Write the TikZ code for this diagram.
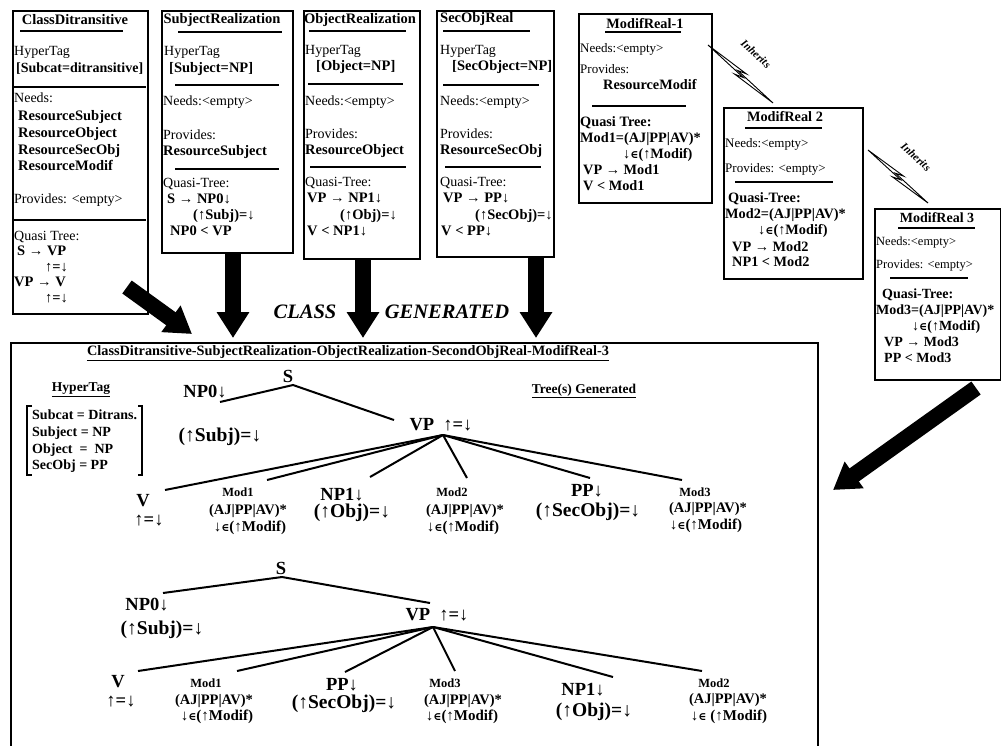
\documentclass[tikz,border=0pt]{standalone}
\usepackage{fontspec}
\setmainfont{Liberation Serif}
\newfontfamily\symfont{DejaVu Serif}
\usetikzlibrary{arrows.meta,calc}
\newcommand\elm{{\symfont\fontsize{11}{11}\selectfont ∈}}
\begin{document}
\begin{tikzpicture}[x=1pt,y=-1pt,
  frame/.style={draw, line width=1.6pt, inner sep=0pt, anchor=north west},
  rule/.style={line width=2.2pt},
  ulr/.style={line width=1.6pt},
  tb/.style={anchor=mid west, inner sep=0pt, font=\fontsize{14}{16}\selectfont},
  tbb/.style={anchor=mid west, inner sep=0pt, font=\fontsize{14.5}{16}\selectfont\bfseries},
  tm/.style={anchor=mid west, inner sep=0pt, font=\fontsize{13}{15}\selectfont},
  tmb/.style={anchor=mid west, inner sep=0pt, font=\fontsize{14.3}{15}\selectfont\bfseries},
  ts/.style={anchor=mid west, inner sep=0pt, font=\fontsize{12.5}{14}\selectfont},
  tsb/.style={anchor=mid west, inner sep=0pt, font=\fontsize{14}{14}\selectfont\bfseries},
  bigarrow/.style={line width=16pt, -{Triangle[length=26pt,width=31pt]}},
  treeedge/.style={line width=2pt},
  lbl/.style={inner sep=0pt, font=\fontsize{18.5}{20}\selectfont\bfseries},
  lblf/.style={inner sep=0pt, font=\fontsize{19.5}{20}\selectfont\bfseries},
  modl/.style={inner sep=0pt, font=\fontsize{12.5}{14}\selectfont\bfseries},
  moda/.style={inner sep=0pt, font=\fontsize{14.5}{15}\selectfont\bfseries},
  modb/.style={inner sep=0pt, font=\fontsize{15}{15}\selectfont\bfseries},
  boltline/.style={line width=0.9pt, line join=miter},
  inh/.style={inner sep=0pt, rotate=-42, font=\fontsize{11}{12}\selectfont\bfseries\itshape},
  gentxt/.style={inner sep=0pt, font=\fontsize{20.5}{22}\selectfont\bfseries\itshape}
]
\useasboundingbox (0,0) rectangle (1001,745);

% ---------- class boxes ----------
\node[frame, minimum width=135pt, minimum height=303pt] (b1) at (12,10) {};
\node[frame, minimum width=131pt, minimum height=242pt] (b2) at (161,10) {};
\node[frame, minimum width=116pt, minimum height=248pt] (b3) at (303,10) {};
\node[frame, minimum width=117pt, minimum height=246pt] (b4) at (436,10) {};
\node[frame, minimum width=133pt, minimum height=189pt] (b5) at (578,13) {};
\node[frame, minimum width=139pt, minimum height=171pt] (b6) at (723,107) {};
\node[frame, minimum width=126pt, minimum height=171pt] (b7) at (874,208) {};

% ClassDitransitive
\node[tbb, anchor=center] (b1t) at (75,20) {ClassDitransitive};
\draw[ulr] (20,31) -- (123,31);
\node[tb] (b1h) at (14,53) {HyperTag};
\node[tsb] (b1hv) at (16,70) {[Subcat=ditransitive]};
\draw[rule] (13,87) -- (146,87);
\node[tb] (b1n) at (14,100) {Needs:};
\node[tbb] (b1n1) at (18,118) {ResourceSubject};
\node[tbb] (b1n2) at (18,135) {ResourceObject};
\node[tbb] (b1n3) at (18,152) {ResourceSecObj};
\node[tbb] (b1n4) at (18,168) {ResourceModif};
\node[tb] (b1p) at (14,201) {Provides: <empty>};
\draw[rule] (13,220) -- (146,220);
\node[tb] (b1q) at (14,238) {Quasi Tree:};
\node[tbb] (b1q1) at (17,253) {S → VP};
\node[tbb] (b1q2) at (45,269) {↑=↓};
\node[tbb] (b1q3) at (14,284) {VP → V};
\node[tbb] (b1q4) at (45,300) {↑=↓};

% SubjectRealization
\node[tbb, anchor=center] (b2t) at (222,20) {SubjectRealization};
\draw[ulr] (178,32) -- (282,32);
\node[tb] (b2h) at (164,53) {HyperTag};
\node[tbb] (b2hv) at (169,70) {[Subject=NP]};
\draw[rule] (175,85) -- (279,85);
\node[tb] (b2n) at (163,103) {Needs:<empty>};
\node[tb] (b2p) at (163,137) {Provides:};
\node[tbb] (b2p1) at (163,153) {ResourceSubject};
\draw[rule] (175,169) -- (279,169);
\node[tb] (b2q) at (163,185) {Quasi-Tree:};
\node[tbb] (b2q1) at (167,201) {S → NP0↓};
\node[tbb] (b2q2) at (193,217) {(↑Subj)=↓};
\node[tbb] (b2q3) at (170,233) {NP0 < VP};

% ObjectRealization
\node[tbb, anchor=center] (b3t) at (360,20) {ObjectRealization};
\draw[ulr] (309,31) -- (406,31);
\node[tb] (b3h) at (305,52) {HyperTag};
\node[tbb] (b3hv) at (316,68) {[Object=NP]};
\draw[rule] (308,84) -- (403,84);
\node[tb] (b3n) at (305,103) {Needs:<empty>};
\node[tb] (b3p) at (305,136) {Provides:};
\node[tbb] (b3p1) at (305,152) {ResourceObject};
\draw[rule] (310,167) -- (406,167);
\node[tb] (b3q) at (305,184) {Quasi-Tree:};
\node[tbb] (b3q1) at (307,200) {VP → NP1↓};
\node[tbb] (b3q2) at (340,217) {(↑Obj)=↓};
\node[tbb] (b3q3) at (307,233) {V < NP1↓};

% SecObjReal
\node[tbb] (b4t) at (440,20) {SecObjReal};
\draw[ulr] (443,31) -- (530,31);
\node[tb] (b4h) at (440,52) {HyperTag};
\node[tbb] (b4hv) at (452,68) {[SecObject=NP]};
\draw[rule] (443,85) -- (539,85);
\node[tb] (b4n) at (440,103) {Needs:<empty>};
\node[tb] (b4p) at (440,136) {Provides:};
\node[tbb] (b4p1) at (440,152) {ResourceSecObj};
\draw[rule] (445,167) -- (541,167);
\node[tb] (b4q) at (440,184) {Quasi-Tree:};
\node[tbb] (b4q1) at (443,200) {VP → PP↓};
\node[tbb] (b4q2) at (475,217) {(↑SecObj)=↓};
\node[tbb] (b4q3) at (441,233) {V < PP↓};

% ModifReal-1
\node[tmb, anchor=center] (b5t) at (645,24) {ModifReal-1};
\draw[ulr] (605,32) -- (681,32);
\node[tm] (b5n) at (580,50) {Needs:<empty>};
\node[tm] (b5p) at (580,71) {Provides:};
\node[tmb] (b5p1) at (603,87) {ResourceModif};
\draw[rule] (592,106) -- (686,106);
\node[tmb] (b5q) at (580,124) {Quasi Tree:};
\node[tmb] (b5q1) at (580,140) {Mod1=(AJ|PP|AV)*};
\node[tmb] (b5q2) at (623,156) {↓\elm(↑Modif)};
\node[tmb] (b5q3) at (583,172) {VP → Mod1};
\node[tmb] (b5q4) at (583,188) {V < Mod1};

% ModifReal 2
\node[tmb, anchor=center] (b6t) at (785,117) {ModifReal 2};
\draw[ulr] (745,128) -- (822,128);
\node[tm] (b6n) at (725,145) {Needs:<empty>};
\node[tm] (b6p) at (725,170) {Provides: <empty>};
\draw[rule] (735,182) -- (833,182);
\node[tmb] (b6q) at (728,200) {Quasi-Tree:};
\node[tmb] (b6q1) at (725,216) {Mod2=(AJ|PP|AV)*};
\node[tmb] (b6q2) at (758,232) {↓\elm(↑Modif)};
\node[tmb] (b6q3) at (732,249) {VP → Mod2};
\node[tmb] (b6q4) at (732,264) {NP1 < Mod2};

% ModifReal 3
\node[tsb, anchor=center] (b7t) at (937,218) {ModifReal 3};
\draw[ulr] (898,228) -- (975,228);
\node[ts] (b7n) at (876,243) {Needs:<empty>};
\node[ts] (b7p) at (876,266) {Provides: <empty>};
\draw[rule] (890,278) -- (968,278);
\node[tsb] (b7q) at (882,296) {Quasi-Tree:};
\node[tsb] (b7q1) at (876,312) {Mod3=(AJ|PP|AV)*};
\node[tsb] (b7q2) at (912,328) {↓\elm(↑Modif)};
\node[tsb] (b7q3) at (884,344) {VP → Mod3};
\node[tsb] (b7q4) at (884,360) {PP < Mod3};

% ---------- inheritance bolts ----------
\coordinate (i1s) at (708,45);
\coordinate (i1e) at (773,103);
\coordinate (i2s) at (868,150);
\coordinate (i2e) at (928,203);
\foreach \s/\e in {i1s/i1e, i2s/i2e}{
  \draw[boltline] (\s)
    -- ($(\s)!0.55!(\e)!4pt!90:(\e)$)
    -- ($(\s)!0.45!(\e)!0.8pt!90:(\e)$)
    -- (\e)
    -- ($(\s)!0.45!(\e)!4pt!-90:(\e)$)
    -- ($(\s)!0.55!(\e)!0.8pt!-90:(\e)$)
    -- cycle;
}
\node[inh] (inh1) at (756,54) {Inherits};
\node[inh] (inh2) at (916,157) {Inherits};

% ---------- generated class frame ----------
\node[frame, minimum width=807pt, minimum height=430pt] (gen) at (10,342) {};
\node[inner sep=0pt, font=\fontsize{14.3}{15}\selectfont\bfseries] (gent) at (348,352)
  {ClassDitransitive-SubjectRealization-ObjectRealization-SecondObjReal-ModifReal-3};
\draw[line width=1.2pt] ([yshift=-1.5pt]gent.south west) -- ([yshift=-1.5pt]gent.south east);

% ---------- big arrows into the generated class ----------
\coordinate (a1s) at (127,287);
\coordinate (a1e) at (192,334);
\coordinate (a2s) at (233,252);
\coordinate (a2e) at (233,338);
\coordinate (a3s) at (363,258);
\coordinate (a3e) at (363,338);
\coordinate (a4s) at (536,256);
\coordinate (a4e) at (536,338);
\coordinate (a5s) at (976,388);
\coordinate (a5e) at (833,490);
\draw[bigarrow] (a1s) -- (a1e);
\draw[bigarrow] (a2s) -- (a2e);
\draw[bigarrow] (a3s) -- (a3e);
\draw[bigarrow] (a4s) -- (a4e);
\draw[bigarrow] (a5s) -- (a5e);
\node[gentxt] (cls) at (305,312) {CLASS};
\node[gentxt] (gnd) at (447,312) {GENERATED};

% ---------- hypertag of the generated class ----------
\node[inner sep=0pt, font=\fontsize{13.5}{15}\selectfont\bfseries] (ght) at (81,389) {HyperTag};
\draw[line width=1.2pt] ([yshift=-1.5pt]ght.south west) -- ([yshift=-1.5pt]ght.south east);
\draw[line width=1.8pt] (32,406) -- (27,406) -- (27,475) -- (32,475);
\draw[line width=1.8pt] (138,406) -- (142,406) -- (142,475) -- (138,475);
\node[tsb] (hv1) at (32,417) {Subcat = Ditrans.};
\node[tsb] (hv2) at (32,434) {Subject = NP};
\node[tsb] (hv3) at (32,451) {Object \ = \ NP};
\node[tsb] (hv4) at (32,467) {SecObj = PP};

\node[inner sep=0pt, font=\fontsize{13.5}{15}\selectfont\bfseries] (tgt) at (584,390) {Tree(s) Generated};
\draw[line width=1.2pt] ([yshift=-1.5pt]tgt.south west) -- ([yshift=-1.5pt]tgt.south east);

% ---------- first generated tree ----------
\node[lbl] (t1S) at (288,376) {S};
\node[lbl] (t1NP0) at (205,392) {NP0↓};
\node[lblf] (t1NP0f) at (220,437) {(↑Subj)=↓};
\node[lbl] (t1VP) at (441,425) {VP \ ↑=↓};
\node[lbl] (t1V) at (143,501) {V};
\node[lbl] (t1Vf) at (149,521) {↑=↓};
\node[modl] (t1M1) at (238,492) {Mod1};
\node[moda] (t1M1a) at (248,511) {(AJ|PP|AV)*};
\node[modb] (t1M1b) at (250,528) {↓\elm(↑Modif)};
\node[lbl] (t1NP1) at (342,495) {NP1↓};
\node[lblf] (t1NP1f) at (352,513) {(↑Obj)=↓};
\node[modl] (t1M2) at (452,492) {Mod2};
\node[moda] (t1M2a) at (465,511) {(AJ|PP|AV)*};
\node[modb] (t1M2b) at (463,528) {↓\elm(↑Modif)};
\node[lbl] (t1PP) at (587,491) {PP↓};
\node[lblf] (t1PPf) at (588,512) {(↑SecObj)=↓};
\node[modl] (t1M3) at (695,492) {Mod3};
\node[moda] (t1M3a) at (708,509) {(AJ|PP|AV)*};
\node[modb] (t1M3b) at (706,526) {↓\elm(↑Modif)};

\coordinate (t1s) at (293,385);
\coordinate (t1np0) at (220,402);
\coordinate (t1vpin) at (394,420);
\coordinate (t1vp) at (443,435);
\coordinate (t1v) at (165,490);
\coordinate (t1m1) at (267,480);
\coordinate (t1np1) at (370,477);
\coordinate (t1m2) at (467,478);
\coordinate (t1pp) at (590,478);
\coordinate (t1m3) at (682,480);
\draw[treeedge] (t1np0) -- (t1s) -- (t1vpin);
\foreach \c in {t1v,t1m1,t1np1,t1m2,t1pp,t1m3}{\draw[treeedge] (t1vp) -- (\c);}

% ---------- second generated tree ----------
\node[lbl] (t2S) at (281,568) {S};
\node[lbl] (t2NP0) at (147,605) {NP0↓};
\node[lblf] (t2NP0f) at (162,630) {(↑Subj)=↓};
\node[lbl] (t2VP) at (437,615) {VP \ ↑=↓};
\node[lbl] (t2V) at (118,682) {V};
\node[lbl] (t2Vf) at (121,702) {↑=↓};
\node[modl] (t2M1) at (206,683) {Mod1};
\node[moda] (t2M1a) at (214,701) {(AJ|PP|AV)*};
\node[modb] (t2M1b) at (217,717) {↓\elm(↑Modif)};
\node[lbl] (t2PP) at (342,685) {PP↓};
\node[lblf] (t2PPf) at (344,704) {(↑SecObj)=↓};
\node[modl] (t2M3) at (445,683) {Mod3};
\node[moda] (t2M3a) at (463,701) {(AJ|PP|AV)*};
\node[modb] (t2M3b) at (462,717) {↓\elm(↑Modif)};
\node[lbl] (t2NP1) at (583,690) {NP1↓};
\node[lblf] (t2NP1f) at (594,712) {(↑Obj)=↓};
\node[modl] (t2M2) at (714,683) {Mod2};
\node[moda] (t2M2a) at (728,700) {(AJ|PP|AV)*};
\node[modb] (t2M2b) at (729,717) {↓\elm\ (↑Modif)};

\coordinate (t2s) at (282,577);
\coordinate (t2np0) at (163,593);
\coordinate (t2vpin) at (430,603);
\coordinate (t2vp) at (433,627);
\coordinate (t2v) at (138,671);
\coordinate (t2m1) at (237,671);
\coordinate (t2pp) at (345,672);
\coordinate (t2m3) at (455,671);
\coordinate (t2np1) at (613,677);
\coordinate (t2m2) at (702,671);
\draw[treeedge] (t2np0) -- (t2s) -- (t2vpin);
\foreach \c in {t2v,t2m1,t2pp,t2m3,t2np1,t2m2}{\draw[treeedge] (t2vp) -- (\c);}
\end{tikzpicture}
\end{document}
